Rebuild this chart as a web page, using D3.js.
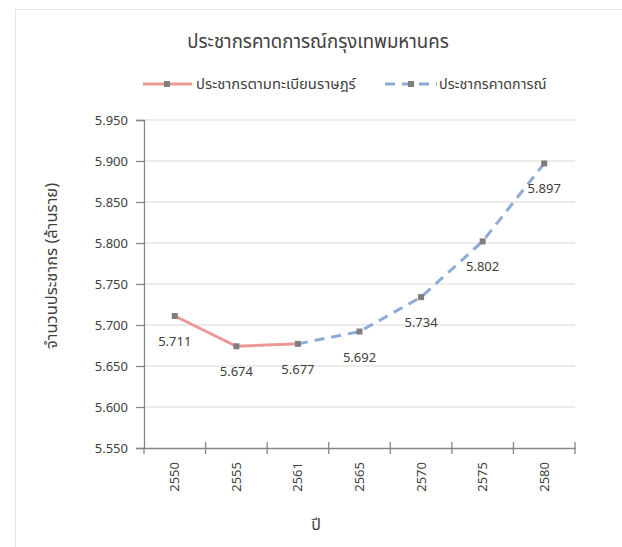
<!DOCTYPE html>
<html>
<head>
  <meta charset="utf-8">
  <title>ประชากรคาดการณ์กรุงเทพมหานคร</title>
  <script src="https://d3js.org/d3.v7.min.js"></script>
  <style>
    body { margin: 0; background: #fff; }
    text { font-family: "Noto Sans Thai", Tahoma, "Noto Sans", sans-serif; fill: #404040; }
  </style>
</head>
<body>
  <svg width="622" height="547" id="mainsvg"></svg>
  <script>
    // data
    const years = ['2550', '2555', '2561', '2565', '2570', '2575', '2580'];
    const registered = [5.711, 5.674, 5.677];          // 2550-2561
    const projectedYears = ['2561', '2565', '2570', '2575', '2580'];
    const projected = [5.677, 5.692, 5.734, 5.802, 5.897];
    const yTicks = [5.55, 5.60, 5.65, 5.70, 5.75, 5.80, 5.85, 5.90, 5.95];

    const svg = d3.select('#mainsvg');
    const pLeft = 144, pRight = 575, pTop = 120, pBottom = 448;

    // faint chart frame
    svg.append('rect').attr('x', 15.5).attr('y', 9.5).attr('width', 620).attr('height', 540)
      .attr('fill', 'none').attr('stroke', '#e6e6e6');

    const x = d3.scaleBand().domain(years).range([pLeft, pRight]);
    const y = d3.scaleLinear().domain([5.55, 5.95]).range([pBottom, pTop]);
    const cx = d => x(d) + x.bandwidth() / 2;

    // gridlines
    svg.append('g').selectAll('line').data(yTicks.slice(1))
      .enter().append('line')
      .attr('x1', pLeft).attr('x2', pRight)
      .attr('y1', d => y(d)).attr('y2', d => y(d))
      .attr('stroke', '#d9d9d9').attr('stroke-width', 1);

    // y axis
    const yAxis = svg.append('g').attr('transform', `translate(${pLeft},0)`)
      .call(d3.axisLeft(y).tickValues(yTicks).tickFormat(d3.format('.3f')).tickSize(8).tickPadding(8));
    yAxis.select('.domain').attr('stroke', '#868686').attr('stroke-width', 1.3);
    yAxis.selectAll('.tick line').attr('stroke', '#868686').attr('stroke-width', 1.3);
    yAxis.selectAll('text').style('font-size', '13px').attr('fill', '#404040');

    // x axis
    const xAxis = svg.append('g').attr('transform', `translate(0,${pBottom})`)
      .call(d3.axisBottom(x).tickSize(0).tickSizeOuter(0));
    xAxis.select('.domain').attr('stroke', '#868686').attr('stroke-width', 1.3);
    xAxis.selectAll('.tick line').remove();
    xAxis.selectAll('text')
      .attr('transform', 'rotate(-90)')
      .attr('x', -14).attr('y', 0).attr('dy', '0.35em')
      .style('text-anchor', 'end').style('font-size', '13px').attr('fill', '#404040');
    // category boundary ticks
    svg.append('g').selectAll('line').data(years)
      .enter().append('line')
      .attr('x1', d => x(d) + x.bandwidth()).attr('x2', d => x(d) + x.bandwidth())
      .attr('y1', pBottom - 6).attr('y2', pBottom + 6)
      .attr('stroke', '#868686').attr('stroke-width', 1.3);
    svg.append('line').attr('x1', pLeft).attr('x2', pLeft).attr('y1', pBottom).attr('y2', pBottom + 6)
      .attr('stroke', '#868686').attr('stroke-width', 1.3);

    const line = d3.line().x(d => cx(d[0])).y(d => y(d[1]));
    const regData = registered.map((v, i) => [years[i], v]);
    const projData = projected.map((v, i) => [projectedYears[i], v]);

    svg.append('path').datum(regData).attr('d', line)
      .attr('fill', 'none').attr('stroke', '#ec9895').attr('stroke-width', 3);
    svg.append('path').datum(projData).attr('d', line)
      .attr('fill', 'none').attr('stroke', '#8eaad6').attr('stroke-width', 3)
      .attr('stroke-dasharray', '10,7');

    const allPts = regData.concat(projData.slice(1));
    svg.append('g').selectAll('rect').data(allPts)
      .enter().append('rect')
      .attr('x', d => cx(d[0]) - 3).attr('y', d => y(d[1]) - 3)
      .attr('width', 6).attr('height', 6).attr('fill', '#7f7f7f');

    svg.append('g').selectAll('text').data(allPts)
      .enter().append('text')
      .attr('x', d => cx(d[0])).attr('y', d => y(d[1]) + 30)
      .attr('text-anchor', 'middle').style('font-size', '13px')
      .text(d => d3.format('.3f')(d[1]));

    // title
    svg.append('text').attr('x', 318).attr('y', 48).attr('text-anchor', 'middle')
      .style('font-size', '18.6px').text('ประชากรคาดการณ์กรุงเทพมหานคร');

    // legend
    const lg = svg.append('g');
    lg.append('line').attr('x1', 143).attr('x2', 192).attr('y1', 84).attr('y2', 84)
      .attr('stroke', '#ec9895').attr('stroke-width', 3);
    lg.append('rect').attr('x', 164).attr('y', 81).attr('width', 6).attr('height', 6).attr('fill', '#7f7f7f');
    lg.append('text').attr('x', 196).attr('y', 89).style('font-size', '14.8px').text('ประชากรตามทะเบียนราษฎร์');
    lg.append('line').attr('x1', 385).attr('x2', 437).attr('y1', 84).attr('y2', 84)
      .attr('stroke', '#8eaad6').attr('stroke-width', 3).attr('stroke-dasharray', '10,7');
    lg.append('rect').attr('x', 408).attr('y', 81).attr('width', 6).attr('height', 6).attr('fill', '#7f7f7f');
    lg.append('text').attr('x', 439).attr('y', 89).style('font-size', '14.3px').text('ประชากรคาดการณ์');

    // axis titles
    svg.append('text').attr('transform', 'translate(51,266) rotate(-90)').attr('text-anchor', 'middle')
      .attr('dy', '0.35em').style('font-size', '16.5px').text('จำนวนประชากร (ล้านราย)');
    svg.append('text').attr('x', 316).attr('y', 530).attr('text-anchor', 'middle')
      .style('font-size', '16px').text('ปี');
  </script>
</body>
</html>
